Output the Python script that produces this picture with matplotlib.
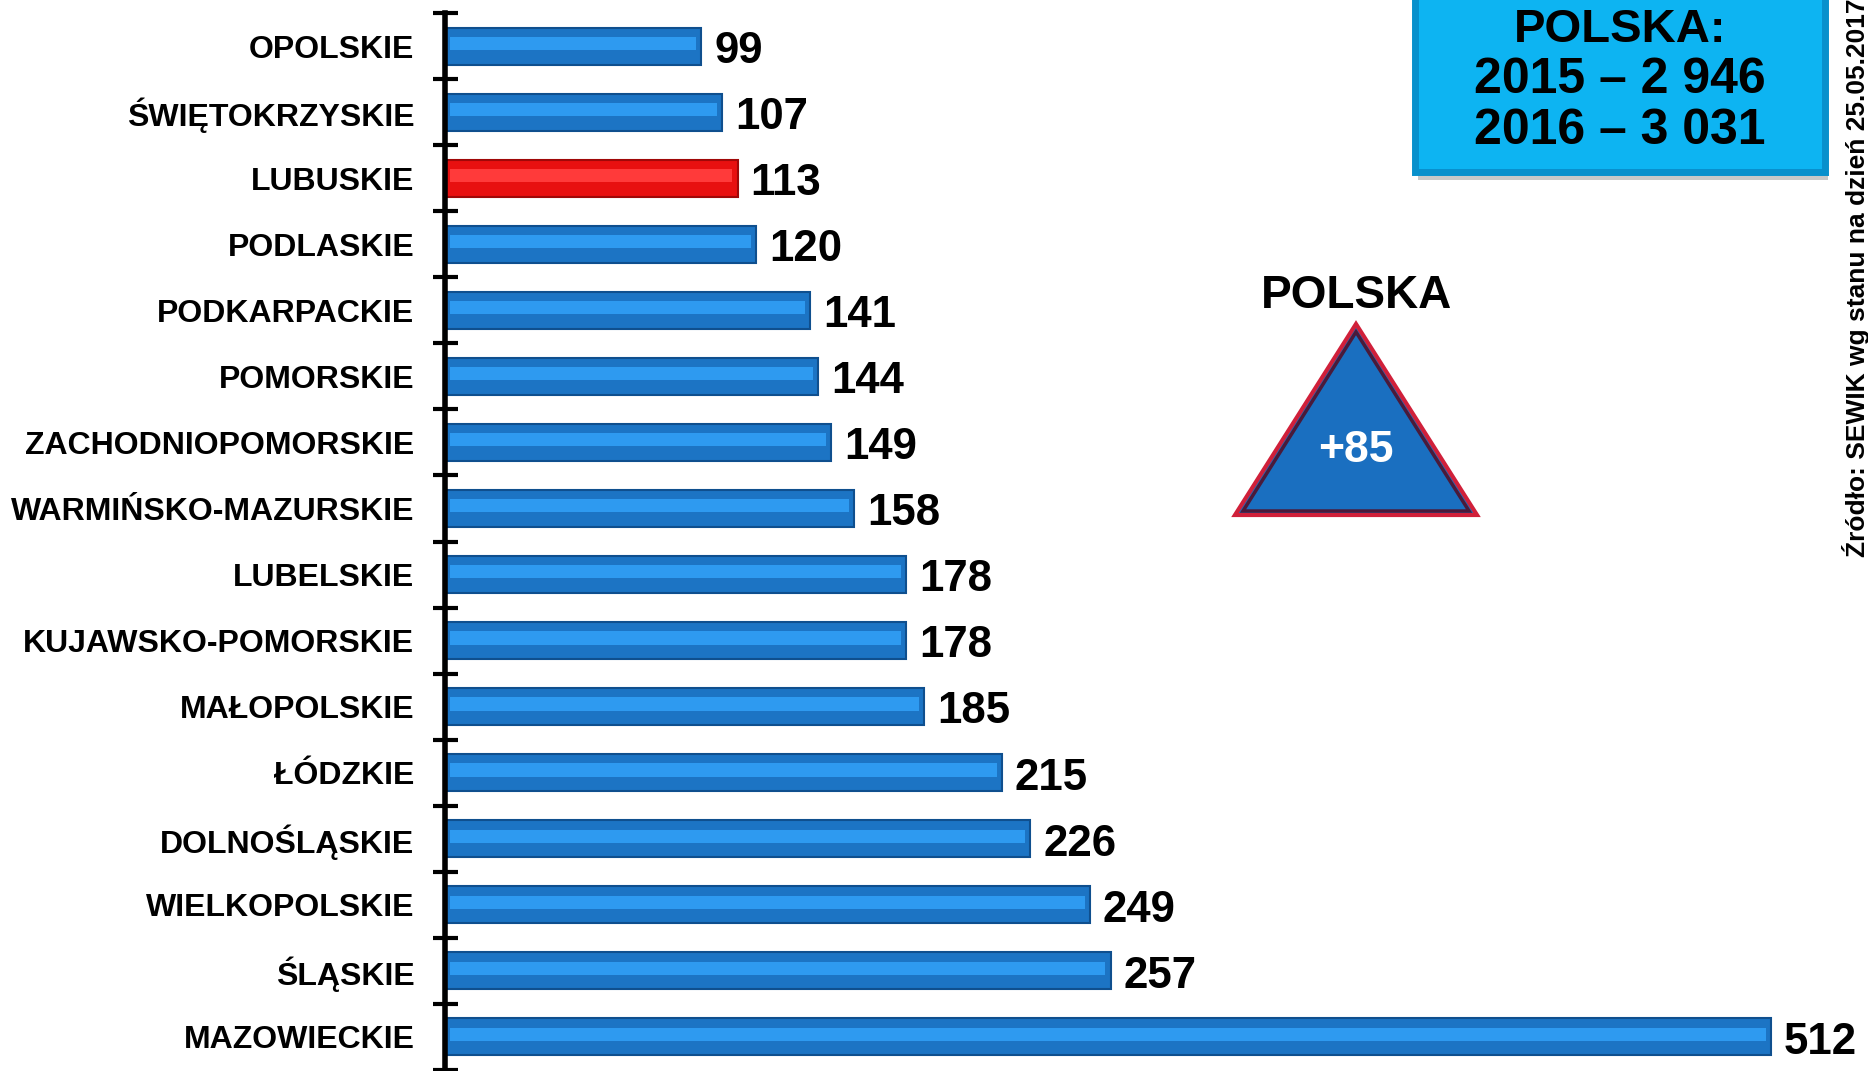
import matplotlib
matplotlib.use("Agg")
import matplotlib.pyplot as plt
from matplotlib.patches import Polygon, Rectangle
import numpy as np

plt.rcParams['font.family'] = ['Liberation Sans', 'DejaVu Sans']

regions = ["OPOLSKIE", "ŚWIĘTOKRZYSKIE", "LUBUSKIE", "PODLASKIE", "PODKARPACKIE",
           "POMORSKIE", "ZACHODNIOPOMORSKIE", "WARMIŃSKO-MAZURSKIE", "LUBELSKIE",
           "KUJAWSKO-POMORSKIE", "MAŁOPOLSKIE", "ŁÓDZKIE", "DOLNOŚLĄSKIE",
           "WIELKOPOLSKIE", "ŚLĄSKIE", "MAZOWIECKIE"]
values = [99, 107, 113, 120, 141, 144, 149, 158, 178, 178, 185, 215, 226, 249, 257, 512]
highlight = "LUBUSKIE"
box_title = "POLSKA:"
box_lines = ["2015 – 2 946", "2016 – 3 031"]
change_title = "POLSKA"
change_value = "+85"
source_text = "Źródło: SEWIK wg stanu na dzień 25.05.2017"

W, H = 1868, 1071
fig = plt.figure(figsize=(W / 100, H / 100), dpi=100)
ax_left = 445 / W
ax = fig.add_axes([ax_left, 1 - 1070 / H, 1 - ax_left, (1070 - 13) / H])

y = np.arange(len(regions))
base_cols = ['#e81010' if r == highlight else '#1c74c4' for r in regions]
edge_cols = ['#a00808' if r == highlight else '#0f4f8e' for r in regions]
hi_cols = ['#ff3a3a' if r == highlight else '#2e9af0' for r in regions]

ax.barh(y, values, height=0.56, color=base_cols, edgecolor=edge_cols, linewidth=1.5, zorder=2)
ax.barh(y - 0.04, [v - 4 for v in values], left=2, height=0.2, color=hi_cols, linewidth=0, zorder=3)

for yi, v in zip(y, values):
    ax.text(v + 5, yi + 0.08, str(v), ha='left', va='center', fontsize=31.5,
            fontweight='bold', color='black', zorder=4)

ax.set_xlim(0, (W - 445) / 2.59)
ax.set_ylim(len(regions) - 0.5, -0.5)
ax.set_yticks(y)
ax.set_yticklabels(regions, fontsize=23, fontweight='bold')
ax.tick_params(axis='y', which='major', length=0, pad=22)
ax.set_yticks(np.arange(len(regions) + 1) - 0.5, minor=True)
ax.tick_params(axis='y', which='minor', length=18, width=3, direction='inout', color='black')
ax.set_xticks([])
for s in ['top', 'right', 'bottom']:
    ax.spines[s].set_visible(False)
ax.spines['left'].set_linewidth(4)
ax.patch.set_alpha(0)

# Info box top right
bx0, by0, bx1, by1 = 1415, -10, 1825, 172
fig.patches.append(Rectangle(((bx0 + 3) / W, 1 - (by1 + 8) / H), (bx1 - bx0) / W, (by1 - by0) / H,
                             transform=fig.transFigure, facecolor='#c8c8c8', edgecolor='none', zorder=1))
fig.patches.append(Rectangle((bx0 / W, 1 - by1 / H), (bx1 - bx0) / W, (by1 - by0) / H,
                             transform=fig.transFigure, facecolor='#0db4f2', edgecolor='#0890cc',
                             linewidth=5, zorder=2))
fig.text((bx0 + bx1) / 2 / W, 1 - 30 / H, box_title, ha='center', va='center', fontsize=34,
         fontweight='heavy', zorder=3)
for i, line in enumerate(box_lines):
    fig.text((bx0 + bx1) / 2 / W, 1 - (80 + 51 * i) / H, line, ha='center', va='center',
             fontsize=36, fontweight='heavy', zorder=3)

# Triangle
apex = (1356, 324)
bl = (1235, 515)
br = (1477, 515)
tri = Polygon([(apex[0] / W, 1 - apex[1] / H), (bl[0] / W, 1 - bl[1] / H), (br[0] / W, 1 - br[1] / H)],
              closed=True, transform=fig.transFigure, facecolor='#1a6fc0', edgecolor='#d0203a',
              linewidth=3, joinstyle='miter', zorder=2)
fig.patches.append(tri)
tri2 = Polygon([(apex[0] / W, 1 - (apex[1] + 8) / H), ((bl[0] + 8) / W, 1 - (bl[1] - 4) / H),
                ((br[0] - 8) / W, 1 - (br[1] - 4) / H)],
               closed=True, transform=fig.transFigure, facecolor='none', edgecolor='#4a1a3a',
               linewidth=2.5, zorder=3)
fig.patches.append(tri2)
fig.text(apex[0] / W, 1 - 296 / H, change_title, ha='center', va='center', fontsize=33,
         fontweight='bold', zorder=3)
fig.text(apex[0] / W, 1 - 450 / H, change_value, ha='center', va='center', fontsize=32,
         fontweight='bold', color='white', zorder=4)

# Source text rotated
fig.text(1856 / W, 1 - 557 / H, source_text, rotation=90, ha='center', va='bottom',
         fontsize=19, fontweight='bold', zorder=3)

fig.savefig("out.png", dpi=100)
